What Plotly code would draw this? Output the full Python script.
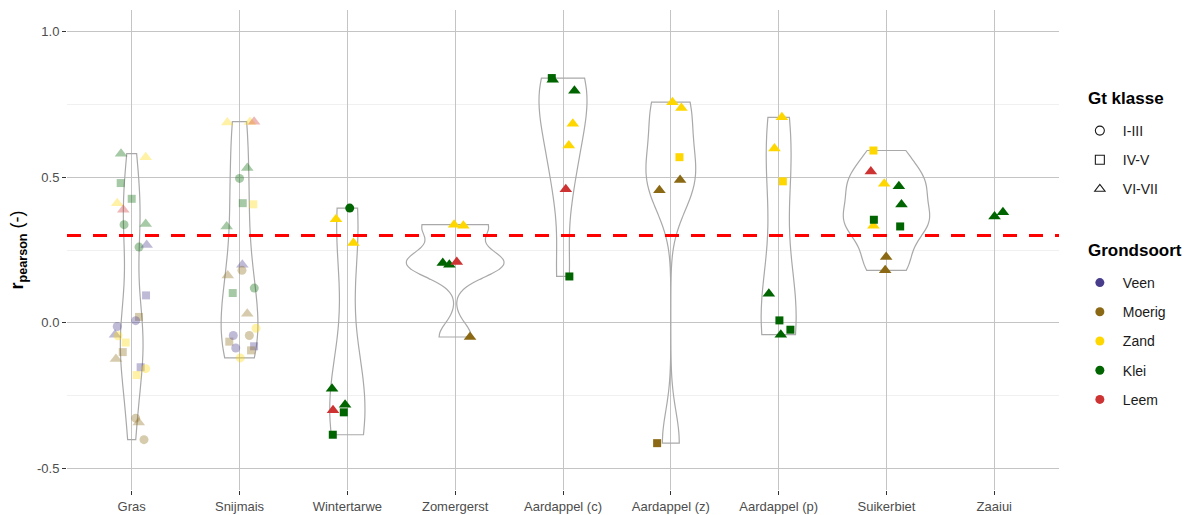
import numpy as np
import plotly.graph_objects as go

# ---- categories and legend levels ----
crops = ["Gras", "Snijmais", "Wintertarwe", "Zomergerst", "Aardappel (c)",
         "Aardappel (z)", "Aardappel (p)", "Suikerbiet", "Zaaiui"]
soils = ["Veen", "Moerig", "Zand", "Klei", "Leem"]
gt_classes = ["I-III", "IV-V", "VI-VII"]
y_ticks = [-0.5, 0.0, 0.5, 1.0]
threshold = 0.3

# ---- per-point data: crop, soil type, Gt class, Pearson r, horizontal jitter ----
point_crop = (["Gras"] * 25 + ["Snijmais"] * 22 + ["Wintertarwe"] * 8 + ["Zomergerst"] * 6
              + ["Aardappel (c)"] * 7 + ["Aardappel (z)"] * 6 + ["Aardappel (p)"] * 7
              + ["Suikerbiet"] * 10 + ["Zaaiui"] * 2)

point_soil = [
    # Gras
    "Klei", "Zand", "Klei", "Klei", "Zand", "Leem", "Klei", "Klei", "Klei", "Veen",
    "Veen", "Moerig", "Veen", "Veen", "Veen", "Zand", "Zand", "Moerig", "Moerig", "Veen",
    "Zand", "Zand", "Moerig", "Moerig", "Moerig",
    # Snijmais
    "Zand", "Zand", "Leem", "Klei", "Klei", "Klei", "Zand", "Klei", "Veen", "Moerig",
    "Moerig", "Klei", "Klei", "Moerig", "Zand", "Moerig", "Veen", "Moerig", "Veen", "Veen",
    "Moerig", "Zand",
    # Wintertarwe
    "Klei", "Zand", "Zand", "Klei", "Leem", "Klei", "Klei", "Klei",
    # Zomergerst
    "Zand", "Zand", "Klei", "Klei", "Leem", "Moerig",
    # Aardappel (c)
    "Klei", "Klei", "Klei", "Zand", "Zand", "Leem", "Klei",
    # Aardappel (z)
    "Zand", "Zand", "Zand", "Moerig", "Moerig", "Moerig",
    # Aardappel (p)
    "Zand", "Zand", "Zand", "Klei", "Klei", "Klei", "Klei",
    # Suikerbiet
    "Zand", "Leem", "Zand", "Klei", "Klei", "Zand", "Klei", "Klei", "Moerig", "Moerig",
    # Zaaiui
    "Klei", "Klei",
]

point_gt = [
    # Gras
    "VI-VII", "VI-VII", "IV-V", "IV-V", "VI-VII", "VI-VII", "I-III", "VI-VII", "I-III", "VI-VII",
    "IV-V", "IV-V", "I-III", "I-III", "VI-VII", "I-III", "IV-V", "IV-V", "VI-VII", "IV-V",
    "I-III", "IV-V", "I-III", "VI-VII", "I-III",
    # Snijmais
    "VI-VII", "VI-VII", "VI-VII", "VI-VII", "I-III", "IV-V", "IV-V", "VI-VII", "VI-VII", "I-III",
    "VI-VII", "IV-V", "I-III", "VI-VII", "I-III", "IV-V", "I-III", "I-III", "I-III", "IV-V",
    "IV-V", "I-III",
    # Wintertarwe
    "I-III", "VI-VII", "VI-VII", "VI-VII", "VI-VII", "VI-VII", "IV-V", "IV-V",
    # Zomergerst
    "VI-VII", "VI-VII", "VI-VII", "VI-VII", "VI-VII", "VI-VII",
    # Aardappel (c)
    "VI-VII", "IV-V", "VI-VII", "VI-VII", "VI-VII", "VI-VII", "IV-V",
    # Aardappel (z)
    "VI-VII", "VI-VII", "IV-V", "VI-VII", "VI-VII", "IV-V",
    # Aardappel (p)
    "VI-VII", "VI-VII", "IV-V", "VI-VII", "IV-V", "IV-V", "VI-VII",
    # Suikerbiet
    "IV-V", "VI-VII", "VI-VII", "VI-VII", "VI-VII", "VI-VII", "IV-V", "IV-V", "VI-VII", "VI-VII",
    # Zaaiui
    "VI-VII", "VI-VII",
]

point_r = [
    # Gras
    0.581, 0.569, 0.480, 0.426, 0.411, 0.388, 0.337, 0.339, 0.260, 0.267,
    0.094, 0.020, -0.013, 0.007, -0.041, -0.045, -0.068, -0.101, -0.125, -0.153,
    -0.158, -0.180, -0.328, -0.343, -0.402,
    # Snijmais
    0.688, 0.690, 0.691, 0.532, 0.496, 0.411, 0.407, 0.331, 0.199, 0.180,
    0.162, 0.102, 0.119, 0.031, -0.019, -0.065, -0.044, -0.044, -0.087, -0.081,
    -0.095, -0.121,
    # Wintertarwe
    0.394, 0.356, 0.274, -0.227, -0.301, -0.282, -0.308, -0.385,
    # Zomergerst
    0.337, 0.333, 0.205, 0.199, 0.209, -0.049,
    # Aardappel (c)
    0.835, 0.841, 0.797, 0.684, 0.609, 0.459, 0.159,
    # Aardappel (z)
    0.758, 0.738, 0.569, 0.491, 0.455, -0.414,
    # Aardappel (p)
    0.706, 0.599, 0.486, 0.100, 0.008, -0.024, -0.041,
    # Suikerbiet
    0.592, 0.520, 0.478, 0.469, 0.406, 0.333, 0.354, 0.331, 0.226, 0.180,
    # Zaaiui
    0.365, 0.380,
]

point_jitter = [
    # Gras
    -0.099, 0.130, -0.102, 0.000, -0.134, -0.078, -0.071, 0.130, 0.068, 0.139,
    0.133, 0.068, -0.134, 0.037, -0.155, -0.127, -0.056, -0.083, -0.146, 0.083,
    0.130, 0.046, 0.037, 0.065, 0.114,
    # Snijmais
    -0.113, 0.097, 0.135, 0.072, 0.000, 0.030, 0.128, -0.119, 0.026, 0.023,
    -0.109, -0.063, 0.137, 0.072, 0.153, -0.095, -0.058, 0.091, -0.035, 0.135,
    0.107, 0.007,
    # Wintertarwe
    0.022, -0.105, 0.056, -0.142, -0.133, -0.021, -0.033, -0.135,
    # Zomergerst
    -0.010, 0.076, -0.115, -0.054, 0.015, 0.138,
    # Aardappel (c)
    -0.095, -0.104, 0.106, 0.091, 0.054, 0.026, 0.059,
    # Aardappel (z)
    0.015, 0.098, 0.080, 0.086, -0.106, -0.127,
    # Aardappel (p)
    0.030, -0.039, 0.039, -0.091, 0.007, 0.109, 0.020,
    # Suikerbiet
    -0.121, -0.145, -0.021, 0.115, 0.139, -0.121, -0.117, 0.127, -0.003, -0.012,
    # Zaaiui
    0.002, 0.080,
]

# crops whose points are drawn semi-transparent
faded_crops = ["Gras", "Snijmais"]

# ---- styles ----
soil_colors = {"Veen": "#483D8B", "Moerig": "#8B6914", "Zand": "#FFD700",
               "Klei": "#006400", "Leem": "#CD3333"}
gt_symbols = {"I-III": "circle", "IV-V": "square", "VI-VII": "triangle-up"}
gt_sizes = {"I-III": 9, "IV-V": 8, "VI-VII": 11}
# maximum violin width per crop (in category units)
violin_width = {"Gras": 0.21, "Snijmais": 0.34, "Wintertarwe": 0.325, "Zomergerst": 0.9,
                "Aardappel (c)": 0.445, "Aardappel (z)": 0.46, "Aardappel (p)": 0.325,
                "Suikerbiet": 0.80}
FONT = "Liberation Sans, Arial, sans-serif"
GRID = "#C4C4C4"

crop_pos = {c: i + 1 for i, c in enumerate(crops)}


def bw_nrd0(v):
    """Silverman's rule of thumb as used by R's density()."""
    v = np.asarray(v, dtype=float)
    sd = v.std(ddof=1)
    q75, q25 = np.percentile(v, [75, 25])
    lo = min(sd, (q75 - q25) / 1.34)
    if lo == 0:
        lo = sd if sd > 0 else 1.0
    return 0.9 * lo * len(v) ** -0.2


r_arr = np.array(point_r)
crop_arr = np.array(point_crop)

fig = go.Figure()

# violins (trimmed to the data range) for crops with enough observations
for c in crops:
    vals = r_arr[crop_arr == c]
    if len(vals) < 3:
        continue
    fig.add_trace(go.Violin(
        x=[crop_pos[c]] * len(vals), y=vals,
        width=violin_width[c],
        bandwidth=bw_nrd0(vals), spanmode="hard", points=False,
        box_visible=False, meanline_visible=False,
        line=dict(color="#A9A9A9", width=1.2),
        fillcolor="rgba(255,255,255,0)",
        showlegend=False, hoverinfo="skip",
    ))

# threshold line
fig.add_trace(go.Scatter(
    x=[0.4, len(crops) + 0.6], y=[threshold, threshold], mode="lines",
    line=dict(color="#FF0000", width=3, dash="14px,12px"),
    showlegend=False, hoverinfo="skip",
))

# points
fig.add_trace(go.Scatter(
    x=[crop_pos[c] + j for c, j in zip(point_crop, point_jitter)],
    y=point_r,
    mode="markers",
    marker=dict(
        color=[soil_colors[s] for s in point_soil],
        symbol=[gt_symbols[g] for g in point_gt],
        size=[gt_sizes[g] for g in point_gt],
        opacity=[0.35 if c in faded_crops else 1.0 for c in point_crop],
        line=dict(width=0),
    ),
    showlegend=False,
))

# legend entries: Gt klasse (shape)
for g in gt_classes:
    fig.add_trace(go.Scatter(
        x=[None], y=[None], mode="markers", name=g, legend="legend", legendgroup=g,
        marker=dict(symbol=gt_symbols[g] + "-open", size=9, color="#1A1A1A",
                    line=dict(width=1.1, color="#1A1A1A")),
    ))

# legend entries: Grondsoort (colour)
for s in soils:
    fig.add_trace(go.Scatter(
        x=[None], y=[None], mode="markers", name=s, legend="legend2", legendgroup=s,
        marker=dict(symbol="circle", size=9, color=soil_colors[s]),
    ))

legend_common = dict(
    xanchor="left", yanchor="top", bgcolor="rgba(0,0,0,0)",
    font=dict(family=FONT, size=14, color="#1A1A1A"),
    itemwidth=36, tracegroupgap=8, itemclick=False,
)

# legend headings
headings = [("Gt klasse", 98), ("Grondsoort", 250)]
annotations = [
    dict(text=f"<b>{t}</b>", xref="paper", yref="paper",
         x=(1086 - 67) / 992, y=(490 - py) / 480, xanchor="left", yanchor="middle",
         showarrow=False, font=dict(family=FONT, size=17, color="#000000"))
    for t, py in headings
]

fig.update_layout(
    width=1195, height=515,
    margin=dict(l=67, r=136, t=10, b=25),
    paper_bgcolor="white", plot_bgcolor="white",
    font=dict(family=FONT, color="#4D4D4D"),
    violinmode="overlay",
    annotations=annotations,
    xaxis=dict(
        range=[0.4, len(crops) + 0.6],
        tickvals=[crop_pos[c] for c in crops], ticktext=crops,
        showgrid=True, gridcolor=GRID, gridwidth=1.1,
        zeroline=False, showline=False,
        ticks="outside", ticklen=4, tickwidth=1.1, tickcolor="#333333",
        tickfont=dict(family=FONT, size=13, color="#4D4D4D"),
        automargin=False,
    ),
    yaxis=dict(
        range=[-0.575, 1.075],
        tickvals=y_ticks, ticktext=[f"{v:.1f}" for v in y_ticks],
        showgrid=True, gridcolor=GRID, gridwidth=1.1,
        minor=dict(dtick=0.25, tick0=0.25, showgrid=True, gridcolor="#F0F0F0",
                   gridwidth=1.0, ticks=""),
        zeroline=False, showline=False,
        ticks="outside", ticklen=4, tickwidth=1.1, tickcolor="#333333",
        tickfont=dict(family=FONT, size=13, color="#4D4D4D"),
        title=dict(text="<b>r<sub>pearson</sub></b> (-)",
                   font=dict(family=FONT, size=18, color="#000000"), standoff=8),
        automargin=False,
    ),
    legend=dict(x=1.018, y=(490 - 115) / 480, **legend_common),
    legend2=dict(x=1.018, y=(490 - 267) / 480, **legend_common),
)

fig.write_html("out.html")
